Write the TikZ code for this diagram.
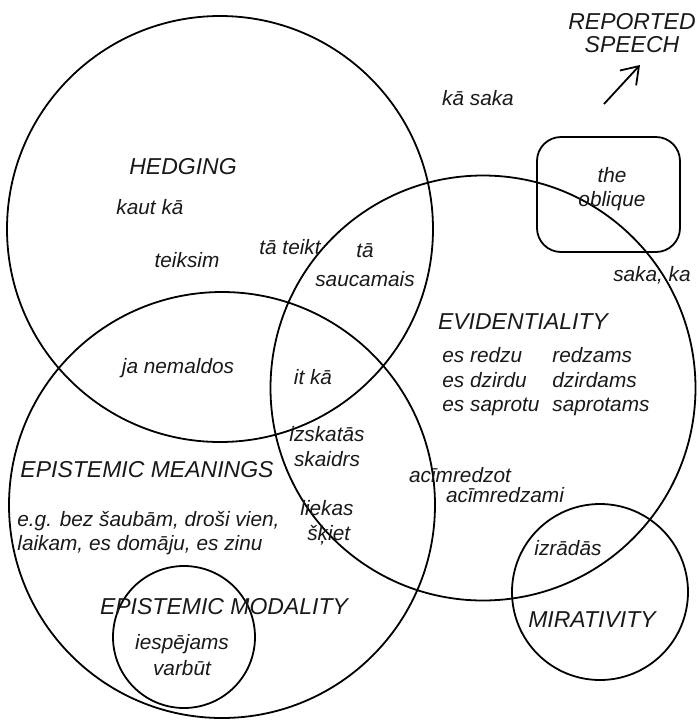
\documentclass[tikz,border=0pt]{standalone}
\usepackage{fontspec}
\setmainfont{Liberation Sans}
\usepackage{tikz}
\usetikzlibrary{positioning,
                arrows.meta}                % arrow tips

\newcommand{\headfont}{\fontsize{11.5}{11.7}\selectfont\itshape}
\newcommand{\wordfont}{\fontsize{10.4}{12.3}\selectfont\itshape}

\tikzset{
  venn/.style={draw, circle, line width=0.9pt, inner sep=0pt},
  head/.style={font=\headfont, inner sep=0pt, text=black!90},
  word/.style={font=\wordfont, inner sep=0pt, text=black!90},
}

\begin{document}
\begin{tikzpicture}[x=0.5pt, y=-0.5pt]
      \useasboundingbox (0,0) rectangle (699,720);

      % the circles
      \node[venn, minimum size=213pt] (hedging) at (220,229) {};
      \node[venn, minimum size=213pt] (epistemic) at (222,505) {};
      \node[venn, minimum size=212.5pt] (evidence) at (483,388) {};
      \node[venn, minimum size=88pt] (mirative) at (600,592) {};
      \node[venn, minimum size=71pt] (modal) at (184,637) {};
      \node[draw, rounded corners=12pt, line width=0.9pt, minimum width=71.5pt, minimum height=57.5pt] (oblique) at (608.5,194.5) {};

      % reported speech
      \node[head, align=center] (reported) at (632,33) {REPORTED\\SPEECH};
      \coordinate (arrfrom) at (604,104);
      \coordinate (arrto) at (640,65);
      \draw[line width=0.9pt, -{Straight Barb[length=8pt, width=11pt]}] (arrfrom) -- (arrto);
      \node[word] (kasaka) at (478,98) {kā saka};

      % hedging
      \node[head] (hedginglabel) at (183,167) {HEDGING};
      \node[word] (kautka) at (150,207) {kaut kā};
      \node[word] (teiksim) at (187,260) {teiksim};
      \node[word] (tateikt) at (290,247) {tā teikt};
      \node[word, align=center, font=\fontsize{10.4}{14.5}\selectfont\itshape] (saucamais) at (365,265) {tā\\saucamais};
      \node[word] (janemaldos) at (178,368) {ja nemaldos};
      \node[word] (itka) at (313,377) {it kā};

      % the oblique
      \node[word, align=center] (obliquelabel) at (612,189) {the\\oblique};
      \node[word] (sakaka) at (652,275) {saka, ka};

      % evidentiality
      \node[head] (evidencelabel) at (523,322) {EVIDENTIALITY};
      \node[word, align=left, anchor=west] (esverbs) at (442,382) {es redzu\\es dzirdu\\es saprotu};
      \node[word, align=left, anchor=west] (participles) at (552,382) {redzams\\dzirdams\\saprotams};
      \node[word, align=center, font=\fontsize{10.4}{12.5}\selectfont\itshape] (izskatas) at (327,447) {izskatās\\skaidrs};
      \node[word, align=center] (liekas) at (327,523) {liekas\\\,šķiet};
      \node[word] (acimredzot) at (460,475) {acīmredzot};
      \node[word] (acimredzami) at (505,495) {acīmredzami};

      % epistemic meanings
      \node[head] (epistemiclabel) at (147,470) {EPISTEMIC MEANINGS};
      \node[word, align=left, anchor=west] (examples) at (17,533) {e.g. bez šaubām, droši vien,\\laikam, es domāju, es zinu};
      \node[head] (modallabel) at (224,607) {EPISTEMIC MODALITY};
      \node[word, align=center, font=\fontsize{10.4}{13}\selectfont\itshape] (iespejams) at (182,655) {iespējams\\varbūt};

      % mirativity
      \node[word] (izradas) at (568,548) {izrādās};
      \node[head] (mirativelabel) at (592,620) {MIRATIVITY};
\end{tikzpicture}
\end{document}
